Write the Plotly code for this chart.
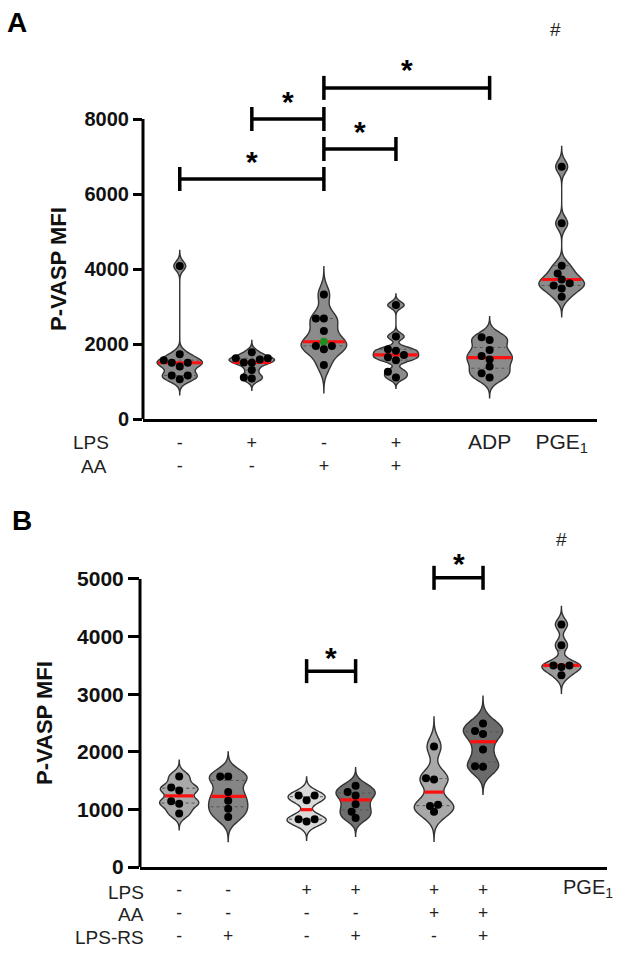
import numpy as np
import plotly.graph_objects as go

W, H = 630, 967
FONT = "Arial, Liberation Sans, sans-serif"

# ---------------- Panel A data ----------------
A_ticktext = ["-<br>-", "+<br>-", "-<br>+", "+<br>+",
              "<span style='font-size:21px'>ADP</span>",
              "<span style='font-size:21px'>PGE<sub>1</sub></span>"]
A_pos = [0, 1, 2, 3, 4.3, 5.3]
A_ctrl = [4080, 1730, 1570, 1500, 1500, 1400, 1160, 1160, 1060]
A_lps = [1780, 1620, 1620, 1590, 1510, 1500, 1310, 1110, 1080]
A_aa = [3320, 2680, 2680, 2350, 2060, 1950, 1950, 1860, 1440]
A_lps_aa = [3040, 2200, 1860, 1820, 1710, 1650, 1570, 1260, 1110]
A_adp = [2180, 2110, 1840, 1680, 1590, 1400, 1220, 1110]
A_pge = [6730, 5220, 4090, 3880, 3720, 3620, 3560, 3480, 3260]
A_groups = [A_ctrl, A_lps, A_aa, A_lps_aa, A_adp, A_pge]
A_fill = ["#8b8b8b"] * 6
A_yticks = [0, 2000, 4000, 6000, 8000]
A_sig = [(0, 2, 6400), (1, 2, 8000), (2, 3, 7200), (2, 4, 8830)]
A_hash = (5, 10380)

# ---------------- Panel B data ----------------
B_ticktext = ["-<br>-<br>-", "-<br>-<br>+", "+<br>-<br>-", "+<br>-<br>+",
              "+<br>+<br>-", "+<br>+<br>+", " "]
B_pos = [0, 1, 2.6, 3.6, 5.2, 6.2, 7.8]
B_ctrl = [1570, 1380, 1330, 1140, 1100, 930]
B_rs = [1570, 1570, 1300, 1150, 1010, 870]
B_lps = [1240, 1240, 1160, 830, 830, 790]
B_lps_rs = [1410, 1300, 1240, 1090, 960, 850]
B_lps_aa = [2090, 1540, 1520, 1080, 1060, 960]
B_lps_aa_rs = [2490, 2360, 2310, 2040, 1750, 1740]
B_pge = [4210, 3850, 3500, 3500, 3470, 3330]
B_groups = [B_ctrl, B_rs, B_lps, B_lps_rs, B_lps_aa, B_lps_aa_rs, B_pge]
B_fill = ["#a9a9a9", "#858585", "#dadada", "#6f6f6f", "#a8a8a8", "#6b6b6b", "#9b9b9b"]
B_yticks = [0, 1000, 2000, 3000, 4000, 5000]
B_sig = [(2, 3, 3400), (4, 5, 5020)]
B_hash = (6, 5690)

# ---------------- geometry (layout) ----------------
A_xdom = [143 / W, 597 / W]
A_ydom = [1 - 419 / H, 1 - 20 / H]
A_xr = [-0.51, 5.79]
A_yr = [0, 10640]
B_xdom = [140 / W, 607 / W]
B_ydom = [1 - 867 / H, 1 - 525 / H]
B_xr = [-0.8, 8.73]
B_yr = [0, 5937]

BW_FACTOR = 0.6      # narrower kernel than Silverman -> wavier violins
TAIL = 2.0           # tail length in Silverman bandwidths


def kde_info(vals):
    v = np.asarray(vals, float)
    n = len(v)
    sd = v.std(ddof=1)
    q1, q3 = np.percentile(v, [25, 75])
    silver = 1.059 * min(sd, (q3 - q1) / 1.349) * n ** -0.2
    if not silver > 0:
        silver = (v.max() - v.min()) / 100
    bw = silver * BW_FACTOR
    lo, hi = v.min() - TAIL * silver, v.max() + TAIL * silver

    def f(y):
        y = np.atleast_1d(np.asarray(y, float))[:, None]
        return np.exp(-0.5 * ((y - v[None, :]) / bw) ** 2).sum(axis=1)

    nstep = int(np.ceil((hi - lo) / (bw / 3)))
    grid = np.linspace(lo, hi, nstep + 1)
    return f, f(grid).max(), bw, lo, hi


def swarm(vals, sx, sy, d=7.0, step=4.0):
    vals = np.asarray(vals, float)
    order = np.argsort(vals, kind="stable")
    placed = []
    offs = np.zeros(len(vals))
    cands = [0.0]
    for k in range(1, 12):
        cands += [-k * step, k * step]
    for i in order:
        y = vals[i] * sy
        for c in cands:
            if all((c - px) ** 2 + (y - py) ** 2 >= d * d for px, py in placed):
                offs[i] = c / sx
                placed.append((c, y))
                break
    return offs


fig = go.Figure()


def panel(groups, pos, fills, width, xa, ya, xdom, ydom, xr, yr, green_idx=None):
    sx = (xdom[1] - xdom[0]) * W / (xr[1] - xr[0])
    sy = (ydom[1] - ydom[0]) * H / (yr[1] - yr[0])
    mx, my, qx, qy, dx, dy, dc = [], [], [], [], [], [], []
    for gi, (vals, p, fc) in enumerate(zip(groups, pos, fills)):
        f, fmax, bw, lo, hi = kde_info(vals)
        fig.add_trace(go.Violin(
            y=vals, x0=p, width=width, xaxis=xa, yaxis=ya,
            bandwidth=bw, spanmode="manual", span=[lo, hi],
            fillcolor=fc, line=dict(color="#333333", width=1.4),
            points=False, box_visible=False, meanline_visible=False,
            hoverinfo="skip", showlegend=False, opacity=1))
        med = float(np.median(vals))
        q1, q3 = np.percentile(vals, [25, 75])
        hw = width / 2 * f(med)[0] / fmax * 0.96
        mx += [p - hw, p + hw, None]
        my += [med, med, None]
        for q in (q1, q3):
            hq = width / 2 * f(q)[0] / fmax * 0.9
            qx += [p - hq, p + hq, None]
            qy += [q, q, None]
        offs = swarm(vals, sx, sy)
        for v, o in zip(vals, offs):
            dx.append(p + o)
            dy.append(v)
            dc.append("#1e8c1e" if (green_idx == gi and v == med) else "black")
    fig.add_trace(go.Scatter(x=qx, y=qy, mode="lines", xaxis=xa, yaxis=ya,
                             line=dict(color="#555555", width=1, dash="dot"),
                             hoverinfo="skip", showlegend=False))
    fig.add_trace(go.Scatter(x=mx, y=my, mode="lines", xaxis=xa, yaxis=ya,
                             line=dict(color="#ff1010", width=3.2),
                             hoverinfo="skip", showlegend=False))
    fig.add_trace(go.Scatter(x=dx, y=dy, mode="markers", xaxis=xa, yaxis=ya,
                             marker=dict(color=dc, size=8),
                             hoverinfo="skip", showlegend=False))
    return sx, sy


A_sx, A_sy = panel(A_groups, A_pos, A_fill, 0.63, "x", "y", A_xdom, A_ydom, A_xr, A_yr, green_idx=2)
B_sx, B_sy = panel(B_groups, B_pos, B_fill, 0.8, "x2", "y2", B_xdom, B_ydom, B_xr, B_yr)

shapes = []
annos = []


def brackets(sig, pos, xa, ya, sy, star_shift):
    tick = 12 / sy
    for a, b, y in sig:
        x0, x1 = pos[a], pos[b]
        for (xs, ys, xe, ye) in [(x0, y, x1, y), (x0, y - tick, x0, y + tick),
                                 (x1, y - tick, x1, y + tick)]:
            shapes.append(dict(type="line", xref=xa, yref=ya, x0=xs, y0=ys, x1=xe, y1=ye,
                               line=dict(color="black", width=3.5)))
        annos.append(dict(x=(x0 + x1) / 2, y=y, xref=xa, yref=ya, text="*",
                          showarrow=False, yshift=star_shift,
                          font=dict(family=FONT, size=30, color="black", weight="bold")))


brackets(A_sig, A_pos, "x", "y", A_sy, 18)
brackets(B_sig, B_pos, "x2", "y2", B_sy, 14)

annos.append(dict(x=A_pos[A_hash[0]], y=A_hash[1], xref="x", yref="y", text="#", showarrow=False,
                  xshift=-6, font=dict(family=FONT, size=19, color="#222")))
annos.append(dict(x=B_pos[B_hash[0]], y=B_hash[1], xref="x2", yref="y2", text="#", showarrow=False,
                  font=dict(family=FONT, size=19, color="#222")))

# y-axis lines (only up to last tick)
shapes.append(dict(type="line", xref="x domain", yref="y domain", x0=0, x1=0, y0=0,
                   y1=A_yticks[-1] / A_yr[1], line=dict(color="black", width=3)))
shapes.append(dict(type="line", xref="x2 domain", yref="y2 domain", x0=0, x1=0, y0=0,
                   y1=B_yticks[-1] / B_yr[1], line=dict(color="black", width=3)))

# y titles
annos.append(dict(x=58 / W, y=4000, xref="paper", yref="y", text="P-VASP MFI", textangle=-90,
                  xanchor="center", yanchor="middle",
                  showarrow=False, font=dict(family=FONT, size=22, color="#111", weight="bold")))
annos.append(dict(x=45 / W, y=2500, xref="paper", yref="y2", text="P-VASP MFI", textangle=-90,
                  xanchor="center", yanchor="middle",
                  showarrow=False, font=dict(family=FONT, size=22, color="#111", weight="bold")))

# panel letters
annos.append(dict(x=17 / W, y=1 - 22 / H, xref="paper", yref="paper", text="A", showarrow=False,
                  xanchor="center", yanchor="middle",
                  font=dict(family=FONT, size=28, color="black", weight="bold")))
annos.append(dict(x=22 / W, y=1 - 520 / H, xref="paper", yref="paper", text="B", showarrow=False,
                  xanchor="center", yanchor="middle",
                  font=dict(family=FONT, size=28, color="black", weight="bold")))

# row headers
rowfont = dict(family=FONT, size=19, color="#222")
annos.append(dict(x=111 / W, y=1 - 443 / H, xref="paper", yref="paper", text="LPS", xanchor="right",
                  yanchor="middle", showarrow=False, font=rowfont))
annos.append(dict(x=109 / W, y=1 - 466 / H, xref="paper", yref="paper", text="AA", xanchor="right",
                  yanchor="middle", showarrow=False, font=rowfont))
rowfontB = dict(family=FONT, size=19, color="#222")
for txt, py in [("LPS", 892), ("AA", 914), ("LPS-RS", 937)]:
    annos.append(dict(x=146 / W, y=1 - py / H, xref="paper", yref="paper", text=txt,
                      xanchor="right", yanchor="middle", showarrow=False, font=rowfontB))
annos.append(dict(x=588 / W, y=1 - 888 / H, xref="paper", yref="paper", text="PGE<sub>1</sub>",
                  xanchor="center", yanchor="middle", showarrow=False,
                  font=dict(family=FONT, size=20, color="#222")))

fig.update_layout(
    width=W, height=H, margin=dict(l=0, r=0, t=0, b=0, autoexpand=False),
    paper_bgcolor="white", plot_bgcolor="white",
    violinmode="overlay", showlegend=False,
    shapes=shapes, annotations=annos,
    xaxis=dict(domain=A_xdom, range=A_xr, showgrid=False, zeroline=False, showline=True,
               linecolor="black", linewidth=3, tickvals=A_pos, ticktext=A_ticktext, ticks="",
               ticklabelstandoff=5, automargin=False,
               tickfont=dict(family=FONT, size=18, color="#222"), anchor="y"),
    yaxis=dict(domain=A_ydom, range=A_yr, showgrid=False, zeroline=False, showline=False,
               tickvals=A_yticks, ticks="outside", ticklen=9, tickwidth=3, tickcolor="black",
               automargin=False,
               tickfont=dict(family=FONT, size=20, color="#111", weight="bold"), anchor="x"),
    xaxis2=dict(domain=B_xdom, range=B_xr, showgrid=False, zeroline=False, showline=True,
                linecolor="black", linewidth=3, tickvals=B_pos, ticktext=B_ticktext, ticks="",
                ticklabelstandoff=5, automargin=False,
                tickfont=dict(family=FONT, size=17.5, color="#222"), anchor="y2"),
    yaxis2=dict(domain=B_ydom, range=B_yr, showgrid=False, zeroline=False, showline=False,
                tickvals=B_yticks, ticks="outside", ticklen=11, tickwidth=3, tickcolor="black",
                automargin=False,
                tickfont=dict(family=FONT, size=21, color="#111", weight="bold"), anchor="x2"),
)

fig.write_html("out.html")
